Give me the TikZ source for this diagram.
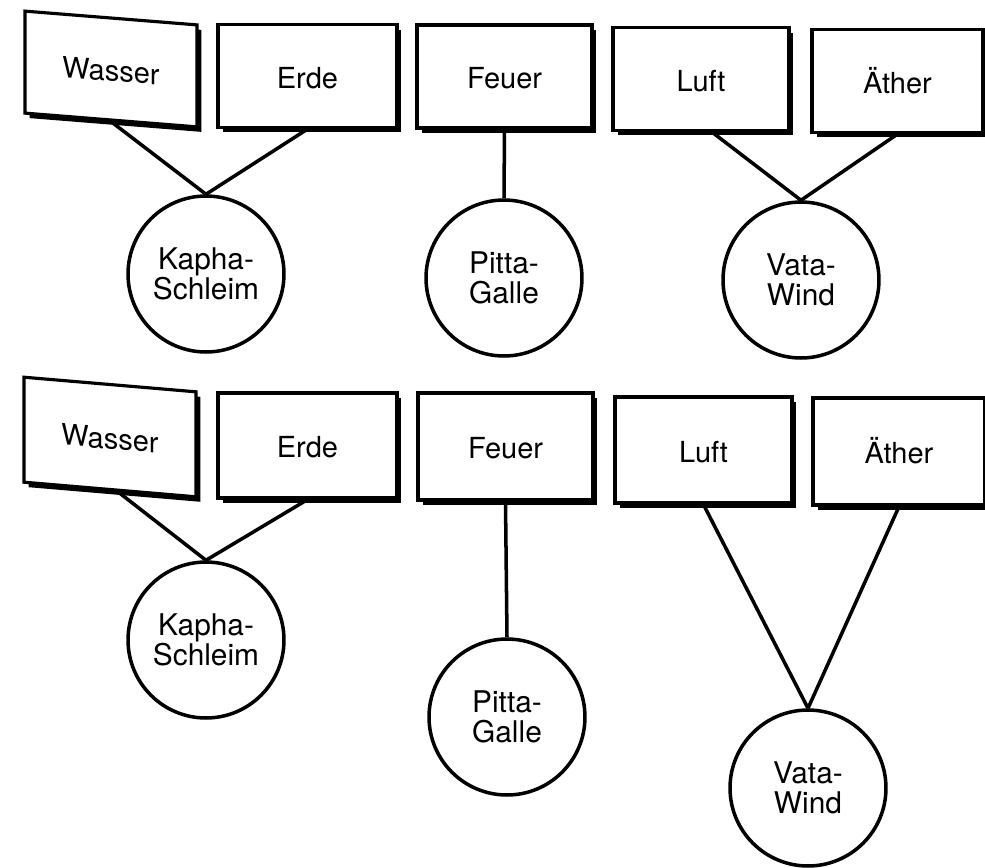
\documentclass[tikz,border=0pt]{standalone}
\usepackage{fontspec}
\setmainfont{TeX Gyre Heros}
\usetikzlibrary{shadows}

\begin{document}
\begin{tikzpicture}[
          x=0.02cm, y=-0.02cm,
          elem/.style={draw, fill=white, line width=1.8pt, inner sep=0pt,
            minimum height=2.06cm, text height=0.48cm, text depth=0pt,
            font=\fontsize{16.5}{18}\selectfont,
            drop shadow={shadow xshift=0.09cm, shadow yshift=-0.1cm,
              fill=black, opacity=1}},
          dosha/.style={circle, draw, line width=2pt, minimum size=3.12cm,
            inner sep=0pt, align=center, font=\fontsize{17}{17}\selectfont},
          link/.style={line width=2pt},
        ]

        % frame of the page
        \useasboundingbox (0,0) rectangle (985,867);

        % -----------------------
        % upper scheme
        % -----------------------
        \node[elem, minimum width=3.44cm, minimum height=2.04cm, yslant=-0.08]
          (wasserA) at (111,69) {Wasser};
        \node[elem, minimum width=3.58cm] (erdeA)  at (307.5,76) {Erde};
        \node[elem, minimum width=3.50cm] (feuerA) at (504.5,76.5) {Feuer};
        \node[elem, minimum width=3.52cm] (luftA)  at (701,79) {Luft};
        \node[elem, minimum width=3.42cm] (aetherA) at (897.5,81) {Äther};

        \node[dosha] (kaphaA) at (206,274) {Kapha-\\Schleim};
        \node[dosha] (pittaA) at (504,278) {Pitta-\\Galle};
        \node[dosha] (vataA)  at (801,280) {Vata-\\Wind};

        \draw[link] (wasserA.south) -- (kaphaA.north);
        \draw[link] (erdeA.south) -- (kaphaA.north);
        \draw[link] (feuerA.south) -- (pittaA.north);
        \draw[link] ([xshift=0.22cm]luftA.south) -- (vataA.north);
        \draw[link] (aetherA.south) -- (vataA.north);

        % -----------------------
        % lower scheme
        % -----------------------
        \node[elem, minimum width=3.44cm, minimum height=2.1cm, yslant=-0.085]
          (wasserB) at (110,437) {Wasser};
        \node[elem, minimum width=3.58cm, minimum height=2.1cm] (erdeB)  at (307.5,445.5) {Erde};
        \node[elem, minimum width=3.50cm, minimum height=2.14cm] (feuerB) at (505.5,446.5) {Feuer};
        \node[elem, minimum width=3.54cm, minimum height=2.12cm] (luftB)  at (703.5,450) {Luft};
        \node[elem, minimum width=3.44cm, minimum height=2.14cm] (aetherB) at (899,451.5) {Äther};

        \node[dosha] (kaphaB) at (206,640) {Kapha-\\Schleim};
        \node[dosha] (pittaB) at (507,717) {Pitta-\\Galle};
        \node[dosha] (vataB)  at (808,788) {Vata-\\Wind};

        \draw[link] ([xshift=0.14cm]wasserB.south) -- (kaphaB.north);
        \draw[link] (erdeB.south) -- (kaphaB.north);
        \draw[link] (feuerB.south) -- (pittaB.north);
        \draw[link] (luftB.south) -- (vataB.north);
        \draw[link] (aetherB.south) -- (vataB.north);

\end{tikzpicture}
\end{document}
